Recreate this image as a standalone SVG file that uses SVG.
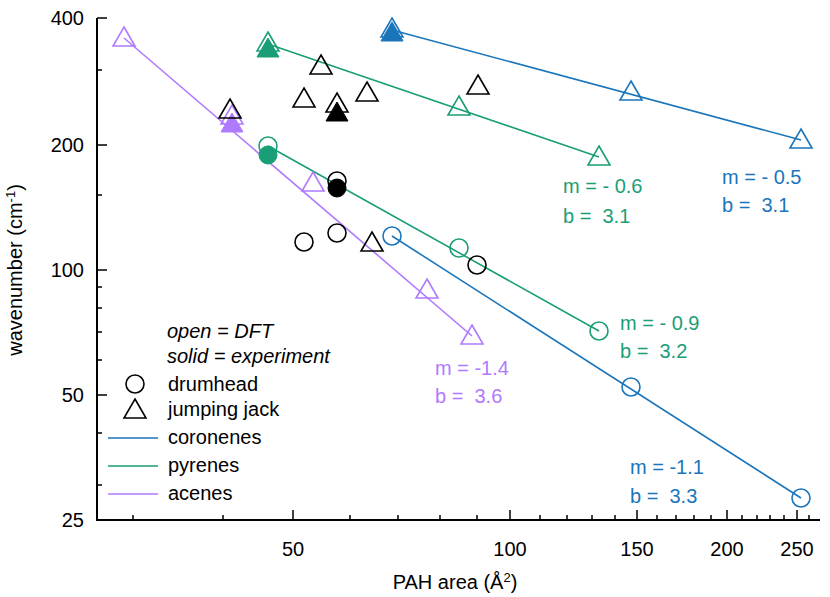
<svg xmlns="http://www.w3.org/2000/svg" width="830" height="597" viewBox="0 0 830 597">
<style>
text{font-family:"Liberation Sans",Arial,sans-serif;font-size:20px}
.ax{stroke:#000;stroke-width:2;fill:none}
.tk{stroke:#000;stroke-width:1.5}
.b{stroke:#1a75bb;fill:none;stroke-width:1.6}
.g{stroke:#1a9e77;fill:none;stroke-width:1.6}
.p{stroke:#b07aff;fill:none;stroke-width:1.6}
.k{stroke:#000;fill:none;stroke-width:1.6}
.bf{fill:#1a75bb;stroke:#1a75bb}
.gf{fill:#1a9e77;stroke:#1a9e77}
.pf{fill:#b07aff;stroke:#b07aff}
.kf{fill:#000;stroke:#000}
</style>
<defs>
<path id="tri" d="M0,-11 L11,8 L-11,8 Z"/>
<circle id="cir" r="9"/>
</defs>
<g id="axes">
<path class="ax" d="M97,18 V520 H820"/>
<path class="tk" d="M97,18h10M97,145h10M97,270h10M97,395h10M97,520h10M97,70h5M97,195h5M97,287h5M97,308h5M97,332h5M97,360h5M97,433h5M97,485h5"/>
<path class="tk" d="M293,520v-10M510,520v-10M637,520v-10M727,520v-10M797,520v-10M133,520v-5M223,520v-5M350,520v-5M398,520v-5M440,520v-5M477,520v-5M540,520v-5M567,520v-5M592,520v-5M615,520v-5M657,520v-5M676,520v-5M694,520v-5M711,520v-5M742,520v-5M757,520v-5M770,520v-5M784,520v-5M809,520v-5"/>
<g text-anchor="end"><text x="84" y="25">400</text><text x="84" y="152">200</text><text x="84" y="277">100</text><text x="84" y="402">50</text><text x="84" y="527">25</text></g>
<g text-anchor="middle"><text x="293" y="556">50</text><text x="510" y="556">100</text><text x="637" y="556">150</text><text x="727" y="556">200</text><text x="797" y="556">250</text>
<text x="455" y="589">PAH area (Å<tspan dy="-7" font-size="13">2</tspan><tspan dy="7">)</tspan></text>
<text transform="translate(22,270) rotate(-90)">wavenumber (cm<tspan dy="-7" font-size="13">-1</tspan><tspan dy="7">)</tspan></text></g>
</g>
<g id="connectors">
<line class="b" x1="392" y1="30" x2="801" y2="140"/>
<line class="b" x1="392" y1="236" x2="801" y2="498"/>
<line class="g" x1="268" y1="44" x2="599" y2="157"/>
<line class="g" x1="268" y1="146" x2="599" y2="331"/>
<line class="p" x1="124" y1="38" x2="472" y2="336"/>
</g>
<g id="coronenes">
<use href="#tri" class="bf" x="392" y="33"/><use href="#tri" class="b" x="392" y="29"/><use href="#tri" class="b" x="631" y="92"/><use href="#tri" class="b" x="801" y="140"/>
<use href="#cir" class="b" x="392" y="236"/><use href="#cir" class="b" x="631" y="387"/><use href="#cir" class="b" x="801" y="498"/>
</g>
<g id="pyrenes">
<use href="#tri" class="gf" x="268" y="49"/><use href="#tri" class="g" x="268" y="43"/><use href="#tri" class="g" x="459" y="107"/><use href="#tri" class="g" x="599" y="157"/>
<use href="#cir" class="gf" x="268" y="155"/><use href="#cir" class="g" x="268" y="146"/><use href="#cir" class="g" x="459" y="248"/><use href="#cir" class="g" x="599" y="331"/>
</g>
<g id="acenes">
<use href="#tri" class="p" x="124" y="38"/><use href="#tri" class="pf" x="232" y="124"/><use href="#tri" class="p" x="232" y="116"/><use href="#tri" class="p" x="313" y="183"/><use href="#tri" class="p" x="427" y="290"/><use href="#tri" class="p" x="472" y="336"/>
</g>
<g id="other">
<use href="#tri" class="k" x="230" y="110"/><use href="#tri" class="k" x="321" y="66"/><use href="#tri" class="k" x="304" y="99"/><use href="#tri" class="kf" x="337" y="113"/><use href="#tri" class="k" x="337" y="104"/><use href="#tri" class="k" x="367" y="93"/><use href="#tri" class="k" x="478" y="86"/><use href="#tri" class="k" x="372" y="243"/>
<use href="#cir" class="kf" x="337" y="188"/><use href="#cir" class="k" x="337" y="181"/><use href="#cir" class="k" x="304" y="242"/><use href="#cir" class="k" x="337" y="233"/><use href="#cir" class="k" x="477" y="265"/>
</g>
<g id="legend">
<text x="167" y="338" font-style="italic">open = DFT</text>
<text x="167" y="363" font-style="italic">solid = experiment</text>
<use href="#cir" class="k" x="135" y="384"/><text x="168" y="391">drumhead</text>
<use href="#tri" class="k" x="135" y="410"/><text x="168" y="416">jumping jack</text>
<line class="b" x1="108" y1="438" x2="158" y2="438"/><text x="168" y="444">coronenes</text>
<line class="g" x1="108" y1="466" x2="158" y2="466"/><text x="168" y="472">pyrenes</text>
<line class="p" x1="108" y1="494" x2="158" y2="494"/><text x="168" y="500">acenes</text>
</g>
<g id="fits">
<text x="563" y="193" fill="#1a9e77">m = - 0.6</text><text x="563" y="223" fill="#1a9e77">b = &#160;3.1</text>
<text x="722" y="184" fill="#1a75bb">m = - 0.5</text><text x="722" y="212" fill="#1a75bb">b = &#160;3.1</text>
<text x="620" y="330" fill="#1a9e77">m = - 0.9</text><text x="620" y="358" fill="#1a9e77">b = &#160;3.2</text>
<text x="435" y="375" fill="#b07aff">m = -1.4</text><text x="435" y="403" fill="#b07aff">b = &#160;3.6</text>
<text x="630" y="474" fill="#1a75bb">m = -1.1</text><text x="630" y="503" fill="#1a75bb">b = &#160;3.3</text>
</g>
</svg>
